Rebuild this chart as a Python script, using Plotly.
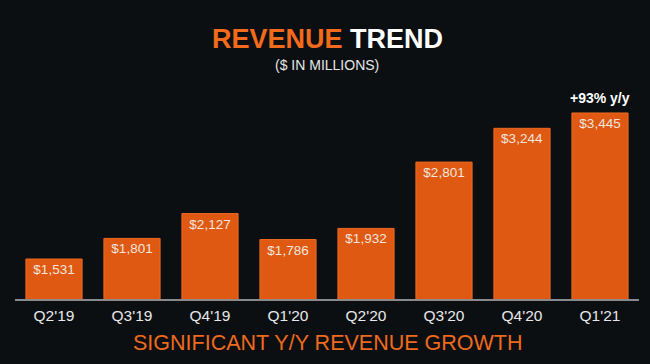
import plotly.graph_objects as go

quarters = ["Q2'19", "Q3'19", "Q4'19", "Q1'20", "Q2'20", "Q3'20", "Q4'20", "Q1'21"]
revenue = [1531, 1801, 2127, 1786, 1932, 2801, 3244, 3445]
labels = ["$1,531", "$1,801", "$2,127", "$1,786", "$1,932", "$2,801", "$3,244", "$3,445"]
growth_note = "+93% y/y"

ORANGE = "#df5913"
BG = "#0c0f12"

fig = go.Figure()
fig.add_trace(go.Bar(
    x=quarters, y=revenue, base=0,
    text=labels, textposition="inside", insidetextanchor="end",
    textfont=dict(family="Liberation Sans, Arial", size=13.5, color="#f2e6de"),
    textangle=0,
    marker=dict(color=ORANGE, line=dict(color="#ec6a22", width=1)),
    hoverinfo="skip",
))

fig.add_annotation(x=quarters[-1], y=revenue[-1], yshift=15, text="<b>" + growth_note + "</b>",
                   showarrow=False, font=dict(family="Liberation Sans, Arial", size=14, color="#ffffff"))

fig.add_annotation(xref="paper", yref="paper", x=0.5, y=1.0, yshift=2, yanchor="bottom",
                   text="<b><span style='color:#f26a1b'>REVENUE</span> <span style='color:#ffffff'>TREND</span></b>",
                   showarrow=False, font=dict(family="Liberation Sans, Arial", size=27))
fig.add_annotation(xref="paper", yref="paper", x=0.5, y=1.0, yshift=3, yanchor="top",
                   text="($ IN MILLIONS)", showarrow=False,
                   font=dict(family="Liberation Sans, Arial", size=14, color="#e6e6e6"))
fig.add_annotation(xref="paper", yref="paper", x=0.5, y=0, yshift=-44, yanchor="middle",
                   text="SIGNIFICANT Y/Y REVENUE GROWTH", showarrow=False,
                   font=dict(family="Liberation Sans, Arial", size=21.5, color="#ee6a1e"))

fig.update_layout(
    width=650, height=364,
    margin=dict(l=15, r=11, t=58, b=65),
    paper_bgcolor=BG, plot_bgcolor=BG,
    bargap=0.28, showlegend=False,
    xaxis=dict(showgrid=False, showline=True, linecolor="#8a8a8a", linewidth=2,
               ticks="", ticklabelstandoff=1,
               tickfont=dict(family="Liberation Sans, Arial", size=15.5, color="#e8e8e8"),
               range=[-0.5, 7.5]),
    yaxis=dict(range=[1007, 1007 + 241 / 0.0763], showgrid=False, showticklabels=False,
               zeroline=False, visible=False),
)

fig.write_html("out.html", config={"displayModeBar": False},
               post_script="document.body.style.margin='0';document.body.style.background='" + BG + "';")
